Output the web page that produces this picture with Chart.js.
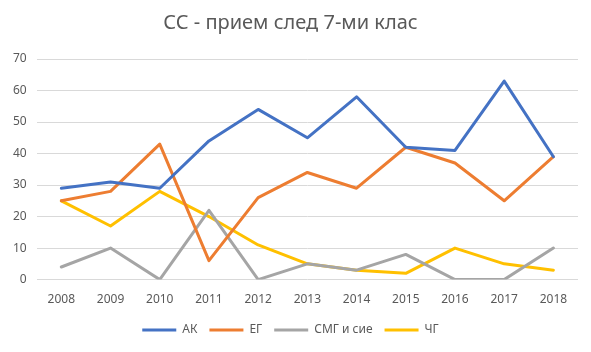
<!DOCTYPE html>
<html>
<head>
<meta charset="utf-8">
<script src="https://cdn.jsdelivr.net/npm/chart.js@4/dist/chart.umd.min.js"></script>
<style>
  body { margin: 0; background: #fff; }
  #wrap { width: 591px; height: 352px; }
</style>
</head>
<body>
<div id="wrap"><canvas id="line-chart" width="591" height="352"></canvas></div>
<script>
var years = ['2008', '2009', '2010', '2011', '2012', '2013', '2014', '2015', '2016', '2017', '2018'];
var ak = [29, 31, 29, 44, 54, 45, 58, 42, 41, 63, 39];
var eg = [25, 28, 43, 6, 26, 34, 29, 42, 37, 25, 39];
var smg = [4, 10, 0, 22, 0, 5, 3, 8, 0, 0, 10];
var chg = [25, 17, 28, 20, 11, 5, 3, 2, 10, 5, 3];

var font = '"Noto Sans", "Open Sans", sans-serif';

function series(label, data, color) {
  return {
    label: label,
    data: data,
    borderColor: color,
    backgroundColor: color,
    borderWidth: 3,
    pointRadius: 0,
    tension: 0,
    borderJoinStyle: 'round',
    borderCapStyle: 'round'
  };
}

var ctx = document.getElementById('line-chart').getContext('2d');
var chart = new Chart(ctx, {
  type: 'line',
  data: {
    labels: years,
    datasets: [
      series('АК', ak, '#4472C4'),
      series('ЕГ', eg, '#ED7D31'),
      series('СМГ и сие', smg, '#A5A5A5'),
      series('ЧГ', chg, '#FFC000')
    ]
  },
  options: {
    responsive: false,
    animation: false,
    layout: { padding: { left: 3, right: 13, top: 0, bottom: 6 } },
    plugins: {
      title: {
        display: true,
        text: 'СС - прием след 7-ми клас',
        color: '#595959',
        font: { family: font, size: 20, weight: 'normal' },
        padding: { top: 11, bottom: 24 }
      },
      legend: {
        position: 'bottom',
        labels: {
          color: '#595959',
          font: { family: font, size: 12 },
          usePointStyle: true,
          pointStyle: 'line',
          pointStyleWidth: 34,
          boxHeight: 12,
          padding: 12
        }
      },
      tooltip: { enabled: false }
    },
    scales: {
      x: {
        offset: true,
        grid: { display: false },
        border: { display: false },
        ticks: { color: '#595959', font: { family: font, size: 12 }, maxRotation: 0, padding: 5 }
      },
      y: {
        min: 0,
        max: 70,
        ticks: { stepSize: 10, color: '#595959', font: { family: font, size: 12 }, padding: 10 },
        grid: { color: '#D9D9D9', drawTicks: false },
        border: { display: false }
      }
    }
  }
});
</script>
</body>
</html>
